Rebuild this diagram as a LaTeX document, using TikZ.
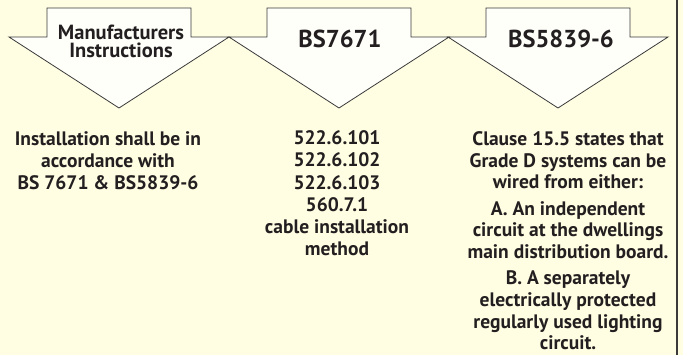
\documentclass[tikz,border=0pt]{standalone}
\usepackage{fontspec}
\setmainfont{PT Sans}
\usetikzlibrary{positioning}
\definecolor{pageF}{HTML}{FFFDE2}
\definecolor{arrowF}{HTML}{FFFFFA}
\definecolor{lineD}{HTML}{3A3A3A}
\definecolor{textC}{HTML}{231F20}
\tikzset{
  headarrow/.style={fill=arrowF, draw=lineD, line width=0.8pt, line join=miter},
  head/.style={font=\bfseries\fontsize{20.5}{18.5}\selectfont, text=textC, align=center, inner sep=0pt, anchor=base},
  bighead/.style={head, font=\bfseries\fontsize{24.5}{26}\selectfont},
  body/.style={font=\bfseries\fontsize{19.5}{22.3}\selectfont, text=textC, align=center, inner sep=0pt, anchor=base},
  clause/.style={body, font=\bfseries\fontsize{19.5}{21.7}\selectfont},
}
% tab-topped arrow pointing down, #1 = centre x, #2 = name
\newcommand\tabarrow[2]{%
  \draw[headarrow] (#1-72,8) -- (#1+72,8) -- (#1+72,37) -- (#1+110,37)
    -- (#1,108) -- (#1-110,37) -- (#1-72,37) -- cycle;
  \coordinate (#2) at (#1,108);}

\begin{document}
\begin{tikzpicture}[x=1pt,y=-1pt]
\fill[pageF] (0,0) rectangle (683,355);
\useasboundingbox (0,0) rectangle (683,355);
\draw[lineD, line width=1.4pt] (677,0) -- (677,355);
\tabarrow{119}{manuf}
\tabarrow{339}{bsA}
\tabarrow{558}{bsB}
% headings (anchor base = last line)
\node[head] (manufT) at (121,58) {Manufacturers\\Instructions};
\node[bighead] (bsAT) at (340,48) {BS7671};
\node[bighead] (bsBT) at (561,48) {BS5839-6};
% what each one says
\node[body] (manufB) at (108,190) {Installation shall be in\\accordance with\\BS 7671 \& BS5839-6};
\node[body] (bsAB) at (337,256) {522.6.101\\522.6.102\\522.6.103\\560.7.1\\cable installation\\method};
\node[clause] (bsBB) at (568,189) {Clause 15.5 states that\\Grade D systems can be\\wired from either:};
\node[clause] (bsBA) at (568,258.5) {A. An independent\\circuit at the dwellings\\main distribution board.};
\node[clause] (bsBC) at (568,350) {B. A separately\\electrically protected\\regularly used lighting\\circuit.};
\end{tikzpicture}
\end{document}
